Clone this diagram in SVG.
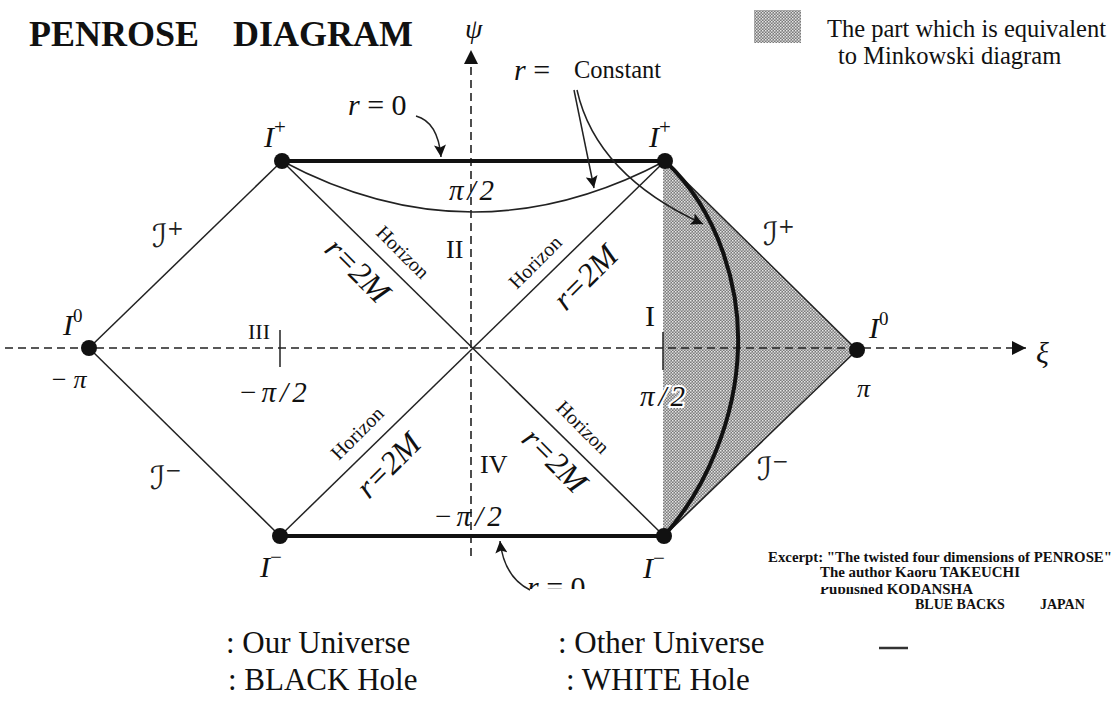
<svg xmlns="http://www.w3.org/2000/svg" width="1120" height="702" viewBox="0 0 1120 702">
<defs>
<pattern id="dots" width="3" height="3" patternUnits="userSpaceOnUse">
<rect width="3" height="3" fill="#7a7a7a"/>
<rect x="0" y="0" width="1.5" height="1.5" fill="#e6e6e6"/>
<rect x="1.5" y="1.5" width="1.5" height="1.5" fill="#d0d0d0"/>
</pattern>
<marker id="axh" viewBox="0 0 10 10" refX="10" refY="5" markerWidth="22" markerHeight="14" orient="auto" markerUnits="userSpaceOnUse">
<path d="M0,0 L10,5 L0,10 z" fill="#111"/>
</marker>
<marker id="sah" viewBox="0 0 10 10" refX="10" refY="5" markerWidth="14" markerHeight="12" orient="auto" markerUnits="userSpaceOnUse">
<path d="M0,0 L10,5 L0,10 L2,5 z" fill="#111"/>
</marker>
<clipPath id="cut"><rect x="0" y="0" width="1120" height="589"/></clipPath>
</defs>
<style>
.ser{font-family:"Liberation Serif","Times New Roman",serif;fill:#111}
.it{font-style:italic}
.up{font-style:normal}
.bold{font-weight:bold}
.thin{stroke:#222;stroke-width:1.5;fill:none}
.thick{stroke:#111;stroke-width:4;fill:none}
.dash{stroke:#222;stroke-width:1.6;stroke-dasharray:8 5;fill:none}
.dot{fill:#111}
.scr{font-family:"DejaVu Serif","DejaVu Sans",serif;font-style:italic;fill:#222}
.hz{font-family:"Liberation Serif",serif;font-size:20px;fill:#111}
.r2m{font-family:"Liberation Serif",serif;font-size:32px;font-style:italic;fill:#111}
.pi{font-family:"Liberation Serif",serif;font-size:29px;font-style:italic;fill:#111;letter-spacing:4px}
.leg{font-family:"Liberation Serif","Times New Roman",serif;font-size:31px;fill:#111}
</style>
<rect width="1120" height="702" fill="#ffffff"/>

<text class="ser bold" x="29" y="46" font-size="36">PENROSE</text>
<text class="ser bold" x="233" y="46" font-size="36">DIAGRAM</text>

<g id="legend-shade">
<rect x="754" y="10" width="47" height="33" fill="url(#dots)"/>
<text class="ser" x="827" y="37" font-size="24.5">The part which is equivalent</text>
<text class="ser" x="838" y="64" font-size="24.5">to Minkowski diagram</text>
</g>

<g id="minkowski-region">
<path d="M665,161 L857,350 L664,536 L663,536 L663,161 Z" fill="url(#dots)"/>
</g>

<g id="connectors">
<line class="dash" x1="5" y1="348" x2="1026" y2="348" marker-end="url(#axh)"/>
<line class="dash" x1="471" y1="556" x2="471" y2="50" marker-end="url(#axh)"/>
<line class="thin" x1="89" y1="348" x2="282" y2="161"/>
<line class="thin" x1="89" y1="348" x2="280" y2="536"/>
<line class="thin" x1="282" y1="161" x2="664" y2="536"/>
<line class="thin" x1="280" y1="536" x2="665" y2="161"/>
<line class="thin" x1="665" y1="161" x2="857" y2="350" stroke-width="2"/>
<line class="thin" x1="857" y1="350" x2="664" y2="536" stroke-width="2"/>
<line class="thick" x1="282" y1="161" x2="665" y2="161"/>
<line class="thick" x1="280" y1="536" x2="664" y2="536"/>
<path class="thin" d="M282,161 Q473,263 665,161" stroke-width="2"/>
<path class="thick" d="M665,161 C720,212 740,290 738,348 C736,420 705,490 664,536" stroke-width="3"/>
<line class="thin" x1="280" y1="330" x2="280" y2="367"/>
<line class="thin" x1="663" y1="332" x2="663" y2="370"/>
<path class="thin" d="M416,116 Q438,122 441,157" marker-end="url(#sah)"/>
<path class="thin" d="M574,90 L594,188" marker-end="url(#sah)"/>
<path class="thin" d="M577,90 Q596,175 703,224" marker-end="url(#sah)"/>
<path class="thin" d="M530,590 Q504,577 500,541" marker-end="url(#sah)"/>
</g>

<g id="node-I0-left"><circle class="dot" cx="89" cy="348" r="8"/>
<text class="ser it" x="63" y="335" font-size="30">I<tspan class="up" font-size="19" dy="-13">0</tspan></text>
<text class="ser it" x="50" y="388" font-size="26" letter-spacing="6">−π</text></g>
<g id="node-Iplus-left"><circle class="dot" cx="282" cy="161" r="8"/>
<text class="ser it" x="264" y="147" font-size="30">I<tspan class="up" font-size="21" dy="-13">+</tspan></text></g>
<g id="node-Iplus-right"><circle class="dot" cx="665" cy="161" r="8"/>
<text class="ser it" x="649" y="147" font-size="30">I<tspan class="up" font-size="21" dy="-13">+</tspan></text></g>
<g id="node-I0-right"><circle class="dot" cx="857" cy="350" r="8"/>
<text class="ser it" x="869" y="338" font-size="30">I<tspan class="up" font-size="19" dy="-13">0</tspan></text>
<text class="ser it" x="857" y="397" font-size="26">π</text></g>
<g id="node-Iminus-left"><circle class="dot" cx="280" cy="536" r="8"/>
<text class="ser it" x="260" y="577" font-size="30">I<tspan class="up" font-size="21" dy="-13">−</tspan></text></g>
<g id="node-Iminus-right"><circle class="dot" cx="664" cy="536" r="8"/>
<text class="ser it" x="643" y="578" font-size="30">I<tspan class="up" font-size="21" dy="-13">−</tspan></text></g>

<g id="labels">
<text class="ser it" x="465" y="38" font-size="28">ψ</text>
<text class="ser it" x="1036" y="363" font-size="30">ξ</text>
<text class="ser" x="514" y="80" font-size="30"><tspan font-style="italic">r</tspan> =</text>
<text class="ser" x="574" y="78" font-size="24.5">Constant</text>
<text class="ser" x="348" y="115" font-size="30"><tspan font-style="italic">r</tspan> = 0</text>
<text class="ser" clip-path="url(#cut)" x="527" y="597" font-size="30"><tspan font-style="italic">r</tspan> = 0</text>
<text class="scr" x="152" y="247" font-size="32">ℐ<tspan font-size="20" dy="-12" font-style="normal">+</tspan></text>
<text class="scr" x="763" y="245" font-size="32">ℐ<tspan font-size="20" dy="-12" font-style="normal">+</tspan></text>
<text class="scr" x="150" y="489" font-size="32">ℐ<tspan font-size="20" dy="-12" font-style="normal">−</tspan></text>
<text class="scr" x="757" y="480" font-size="32">ℐ<tspan font-size="20" dy="-12" font-style="normal">−</tspan></text>
<text class="pi" x="449" y="200">π/2</text>
<text class="pi" x="238" y="402">−π/2</text>
<text class="pi" x="640" y="406" stroke="#fff" stroke-width="4" paint-order="stroke">π/2</text>
<text class="pi" x="433" y="526">−π/2</text>
<text class="ser" x="446" y="258" font-size="26">II</text>
<text class="ser" x="248" y="339" font-size="22">III</text>
<text class="ser" x="645" y="326" font-size="30">I</text>
<text class="ser" x="480" y="473" font-size="26">IV</text>
<text class="hz" text-anchor="middle" dominant-baseline="central" transform="translate(403,252) rotate(45)">Horizon</text>
<text class="r2m" text-anchor="middle" dominant-baseline="central" transform="translate(358,270) rotate(45)">r=2M</text>
<text class="hz" text-anchor="middle" dominant-baseline="central" transform="translate(535,262) rotate(-45)">Horizon</text>
<text class="r2m" text-anchor="middle" dominant-baseline="central" transform="translate(585,277) rotate(-45)">r=2M</text>
<text class="hz" text-anchor="middle" dominant-baseline="central" transform="translate(357,433) rotate(-45)">Horizon</text>
<text class="r2m" text-anchor="middle" dominant-baseline="central" transform="translate(388,465) rotate(-45)">r=2M</text>
<text class="hz" text-anchor="middle" dominant-baseline="central" transform="translate(583,427) rotate(45)">Horizon</text>
<text class="r2m" text-anchor="middle" dominant-baseline="central" transform="translate(555,460) rotate(45)">r=2M</text>
</g>

<g id="credits">
<text class="ser bold" x="768" y="562" font-size="14" textLength="344" lengthAdjust="spacingAndGlyphs">Excerpt: "The twisted four dimensions of PENROSE"</text>
<text class="ser bold" x="820" y="577" font-size="14" textLength="200" lengthAdjust="spacingAndGlyphs">The author  Kaoru TAKEUCHI</text>
<text class="ser bold" x="820" y="594" font-size="14" textLength="153" lengthAdjust="spacingAndGlyphs">Published KODANSHA</text>
<rect x="815" y="579" width="48" height="8" fill="#fff"/>
<text class="ser bold" x="915" y="609" font-size="14">BLUE BACKS</text>
<text class="ser bold" x="1040" y="609" font-size="14">JAPAN</text>
<line x1="879" y1="648" x2="908" y2="648" stroke="#333" stroke-width="2.5"/>
</g>

<g id="legend-bottom">
<text class="leg" x="226" y="653">: Our Universe</text>
<text class="leg" x="558" y="653">: Other Universe</text>
<text class="leg" x="228" y="690">: BLACK Hole</text>
<text class="leg" x="566" y="690">: WHITE Hole</text>
</g>
</svg>
